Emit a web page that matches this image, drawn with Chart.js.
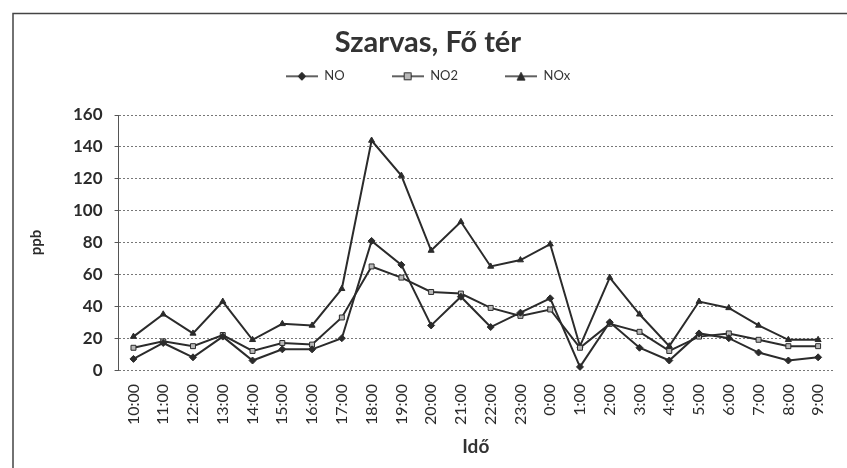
<!DOCTYPE html>
<html>
<head>
<meta charset="utf-8">
<script src="https://cdn.jsdelivr.net/npm/chart.js@4/dist/chart.umd.min.js"></script>
<style>
  html, body { margin: 0; padding: 0; background: #fff; }
  #wrap { width: 847px; height: 468px; }
</style>
</head>
<body>
<div id="wrap"><canvas id="chart" width="847" height="468"></canvas></div>
<script>
const hours = ['10:00', '11:00', '12:00', '13:00', '14:00', '15:00', '16:00', '17:00', '18:00', '19:00',
  '20:00', '21:00', '22:00', '23:00', '0:00', '1:00', '2:00', '3:00', '4:00', '5:00', '6:00', '7:00', '8:00', '9:00'];
const no = [7, 17, 8, 21, 6, 13, 13, 20, 81, 66, 28, 46, 27, 36, 45, 2, 30, 14, 6, 23, 20, 11, 6, 8];
const no2 = [14, 18, 15, 22, 12, 17, 16, 33, 65, 58, 49, 48, 39, 34, 38, 14, 29, 24, 12, 21, 23, 19, 15, 15];
const nox = [21, 35, 23, 43, 19, 29, 28, 51, 144, 122, 75, 93, 65, 69, 79, 15, 58, 35, 15, 43, 39, 28, 19, 19];

const ink = '#2b2b2b';
const font = 'Lato, "Open Sans", sans-serif';

// little line + marker picture for the legend
const legendIcon = (style, fill) => {
  const c = document.createElement('canvas');
  c.width = 32; c.height = 10;
  const g = c.getContext('2d');
  g.strokeStyle = ink; g.lineWidth = 1.5;
  g.beginPath(); g.moveTo(0, 5); g.lineTo(32, 5); g.stroke();
  g.fillStyle = fill; g.strokeStyle = ink; g.lineWidth = 1;
  g.beginPath();
  if (style === 'rectRot') { g.moveTo(16, 1); g.lineTo(20, 5); g.lineTo(16, 9); g.lineTo(12, 5); g.closePath(); }
  if (style === 'rect') { g.rect(12.5, 1.5, 7, 7); }
  if (style === 'triangle') { g.moveTo(16, 1); g.lineTo(20, 9); g.lineTo(12, 9); g.closePath(); }
  g.fill(); g.stroke();
  return c;
};

const frame = {
  id: 'frame',
  afterDraw(chart) {
    const ctx = chart.ctx;
    ctx.save();
    ctx.strokeStyle = '#444';
    ctx.lineWidth = 1.5;
    ctx.beginPath();
    ctx.moveTo(13, 468); ctx.lineTo(13, 13.5); ctx.lineTo(847, 13.5);
    ctx.stroke();
    ctx.restore();
  }
};

// extra room under the legend
const legendGap = {
  id: 'legendGap',
  beforeInit(chart) {
    const fit = chart.legend.fit;
    chart.legend.fit = function () {
      fit.call(this);
      this.height += 20;
    };
  }
};

const series = [
  { label: 'NO', data: no, pointStyle: 'rectRot', fill: ink },
  { label: 'NO2', data: no2, pointStyle: 'rect', fill: '#b8b8b8' },
  { label: 'NOx', data: nox, pointStyle: 'triangle', fill: ink },
];

new Chart(document.getElementById('chart'), {
  type: 'line',
  data: {
    labels: hours,
    datasets: series.map((s) => ({
      label: s.label,
      data: s.data,
      borderColor: ink,
      borderWidth: 2,
      backgroundColor: s.fill,
      pointStyle: s.pointStyle,
      pointRadius: 3.5,
      pointBackgroundColor: s.fill,
      pointBorderColor: ink,
      pointBorderWidth: 1,
      tension: 0,
    })),
  },
  options: {
    responsive: false,
    animation: false,
    layout: { padding: { top: 25, left: 23, right: 14, bottom: 4 } },
    plugins: {
      title: {
        display: true,
        text: 'Szarvas, Fő tér',
        color: '#333',
        font: { family: font, size: 29, weight: 'bold' },
        padding: { top: 0, bottom: -37 },
      },
      legend: {
        labels: {
          usePointStyle: true,
          pointStyleWidth: 32,
          padding: 47,
          color: '#333',
          font: { family: font, size: 13 },
          generateLabels: () => series.map((s, i) => ({
            text: s.label,
            pointStyle: legendIcon(s.pointStyle, s.fill),
            datasetIndex: i,
            fontColor: '#333',
          })),
        },
      },
      tooltip: { enabled: false },
    },
    scales: {
      x: {
        offset: true,
        grid: { display: false },
        border: { display: false },
        ticks: {
          maxRotation: 90, minRotation: 90,
          color: ink,
          font: { family: font, size: 16 },
          padding: 8,
        },
        title: {
          display: true,
          text: 'Idő',
          color: '#333',
          font: { family: font, size: 19, weight: 'bold' },
          padding: { top: 2 },
        },
      },
      y: {
        min: 0, max: 160,
        ticks: {
          stepSize: 20,
          color: ink,
          font: { family: font, size: 17, weight: 'bold' },
          padding: 12,
        },
        grid: {
          color: '#777',
          tickLength: 4,
          tickColor: '#555',
          tickBorderDash: [],
        },
        border: { display: true, color: '#555', width: 1, dash: [2, 2] },
        title: {
          display: true,
          text: 'ppb',
          color: ink,
          font: { family: font, size: 15, weight: 'bold' },
          padding: { bottom: 16 },
        },
      },
    },
  },
  plugins: [frame, legendGap],
});
</script>
</body>
</html>
